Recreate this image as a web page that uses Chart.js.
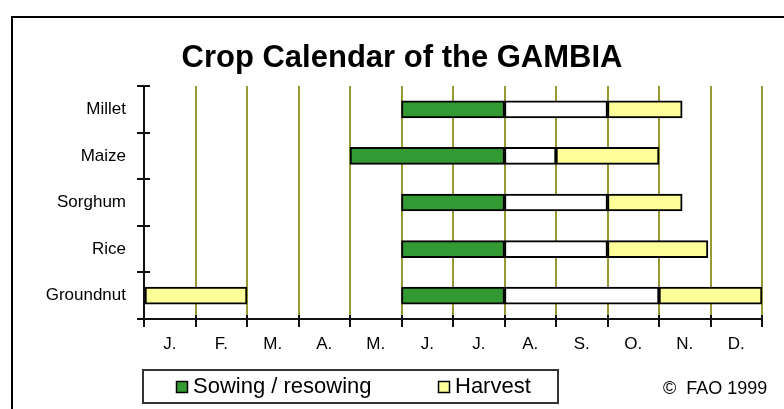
<!DOCTYPE html>
<html>
<head>
<meta charset="utf-8">
<script src="https://cdn.jsdelivr.net/npm/chart.js@4"></script>
<style>
  body { margin: 0; background: #fff; }
  canvas { display: block; }
</style>
</head>
<body>
<canvas id="grafico" width="784" height="409"></canvas>
<script>
const crops = ['Millet', 'Maize', 'Sorghum', 'Rice', 'Groundnut'];
const months = ['J.', 'F.', 'M.', 'A.', 'M.', 'J.', 'J.', 'A.', 'S.', 'O.', 'N.', 'D.'];
const sowing = [[5, 7], [4, 7], [5, 7], [5, 7], [5, 7]];
const growing = [[7, 9], [7, 8], [7, 9], [7, 9], [7, 10]];
const harvest = [[9, 10.45], [8, 10], [9, 10.45], [9, 10.95], [10, 12]];
const harvestEarly = [null, null, null, null, [0, 2]];

const FONT = 'Arial, "Liberation Sans", sans-serif';
const olive = '#999933';

// marco, cruces de los ejes, leyenda y copyright
const extras = {
    id: 'extras',
    beforeDraw(chart) {
        const c = chart.ctx;
        c.save();
        c.fillStyle = '#fff';
        c.fillRect(0, 0, chart.width, chart.height);
        c.strokeStyle = '#000';
        c.lineWidth = 2;
        c.beginPath();
        c.moveTo(12, chart.height);
        c.lineTo(12, 17);
        c.lineTo(chart.width, 17);
        c.stroke();
        c.restore();
    },
    afterDraw(chart) {
        const c = chart.ctx;
        const a = chart.chartArea;
        const x = chart.scales.x;
        c.save();
        c.strokeStyle = '#111';
        c.lineWidth = 2;
        c.beginPath();
        for (let i = 0; i <= 12; i++) {
            const px = Math.round(x.getPixelForValue(i));
            c.moveTo(px, a.bottom - 4);
            c.lineTo(px, a.bottom + 8);
        }
        const step = (a.bottom - a.top) / crops.length;
        for (let i = 0; i <= crops.length; i++) {
            const py = Math.round(a.top + i * step);
            c.moveTo(a.left - 7, py);
            c.lineTo(a.left + 6, py);
        }
        c.stroke();

        // leyenda
        c.strokeStyle = '#333';
        c.lineWidth = 2;
        c.strokeRect(143, 370, 415, 33);
        const items = chart.data.datasets.filter(d => d.inLegend);
        const posX = [176, 438];
        c.font = '22px ' + FONT;
        c.textBaseline = 'middle';
        items.forEach((d, i) => {
            c.fillStyle = d.backgroundColor;
            c.fillRect(posX[i], 381, 12, 12);
            c.lineWidth = 1.5;
            c.strokeStyle = '#000';
            c.strokeRect(posX[i] + 0.5, 381.5, 11, 11);
            c.fillStyle = '#000';
            c.fillText(d.label, posX[i] + 17, 387);
        });
        c.font = '18px ' + FONT;
        c.fillText('\u00A9  FAO 1999', 663, 389);
        c.restore();
    }
};

const ctx = document.getElementById('grafico');

const barBase = {
    borderColor: '#000',
    borderWidth: 2,
    borderSkipped: false,
    barThickness: 17,
    grouped: false
};

contenidoGrafico = new Chart(ctx, {
    type: 'bar',
    data: {
        labels: crops,
        datasets: [
            { ...barBase, label: 'Sowing / resowing', data: sowing, backgroundColor: '#339933', inLegend: true },
            { ...barBase, label: 'Growing', data: growing, backgroundColor: '#ffffff' },
            { ...barBase, label: 'Harvest', data: harvest, backgroundColor: '#ffff99', inLegend: true },
            { ...barBase, label: 'Harvest ', data: harvestEarly, backgroundColor: '#ffff99' }
        ]
    },
    options: {
        indexAxis: 'y',
        responsive: false,
        animation: false,
        layout: { padding: { left: 42, right: 22, top: 0, bottom: 0 } },
        plugins: {
            legend: { display: false },
            tooltip: { enabled: false },
            title: {
                display: true,
                text: 'Crop Calendar of the GAMBIA',
                color: '#000',
                font: { family: FONT, size: 31, weight: 'bold' },
                padding: { top: 40, bottom: 8.8 }
            }
        },
        scales: {
            x: {
                type: 'linear',
                min: 0,
                max: 12,
                position: 'bottom',
                afterFit: s => { s.height = 0; },
                ticks: { display: false, stepSize: 1 },
                grid: {
                    color: c => c.tick && c.tick.value === 0 ? 'rgba(0,0,0,0)' : olive,
                    lineWidth: 2,
                    drawTicks: false
                },
                border: { color: '#111', width: 2 }
            },
            xm: {
                type: 'category',
                labels: months,
                offset: true,
                position: 'bottom',
                afterFit: s => { s.height = 90; },
                grid: { display: false, drawTicks: false },
                border: { display: false },
                ticks: { color: '#000', padding: 15, font: { family: FONT, size: 17 }, autoSkip: false, maxRotation: 0 }
            },
            y: {
                type: 'category',
                afterFit: s => { s.width = 102; },
                grid: { display: false, drawTicks: false },
                border: { color: '#111', width: 2 },
                ticks: { color: '#000', padding: 18, font: { family: FONT, size: 17 } }
            }
        }
    },
    plugins: [extras]
});
</script>
</body>
</html>
